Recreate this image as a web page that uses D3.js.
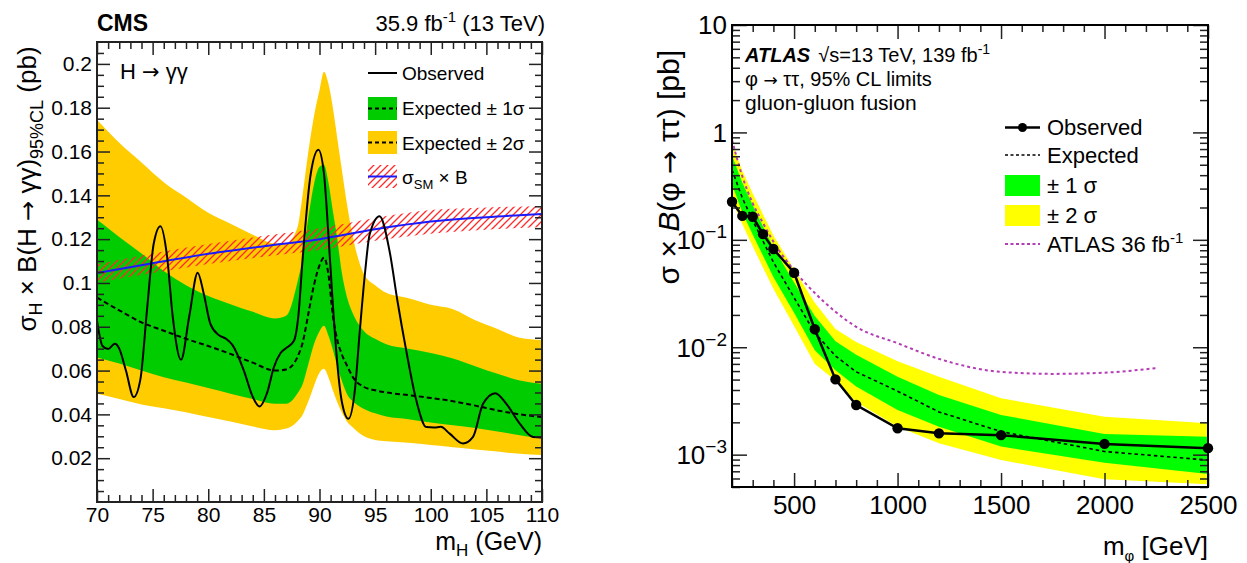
<!DOCTYPE html>
<html><head><meta charset="utf-8">
<script src="https://cdn.jsdelivr.net/npm/d3@7"></script>
<style>
body{margin:0;background:#fff;}
svg text{font-family:"Liberation Sans", Arial, Helvetica, sans-serif;fill:#000;}
.arr{font-family:"DejaVu Sans", sans-serif;}
</style></head><body>
<svg id="c" width="1247" height="563"></svg>
<script>
// ---------------- CMS (left) data ----------------
const cmsBandMass = [70,72,74,76,78,80,82,84,86,87,88,88.5,89,89.5,90,90.4,90.8,91.2,91.6,92,92.5,93,94,95,96,98,100,102,104,106,108,110];
const cmsExpected = [0.0933,0.0875,0.082,0.0782,0.0745,0.0712,0.0676,0.0636,0.060,0.0605,0.066,0.073,0.086,0.099,0.108,0.1115,0.104,0.085,0.074,0.0675,0.062,0.057,0.0525,0.051,0.050,0.0488,0.0475,0.046,0.044,0.0418,0.040,0.0388];
const cms1SigHi = [0.129,0.121,0.1135,0.1055,0.099,0.094,0.0903,0.0868,0.0838,0.085,0.100,0.112,0.130,0.145,0.153,0.154,0.146,0.133,0.120,0.105,0.093,0.086,0.078,0.0745,0.072,0.070,0.068,0.0655,0.062,0.0585,0.0555,0.054];
const cms1SigLo = [0.066,0.0632,0.060,0.057,0.0545,0.052,0.0494,0.047,0.0448,0.0448,0.0494,0.054,0.063,0.072,0.078,0.0805,0.076,0.0695,0.062,0.0555,0.049,0.046,0.0425,0.0405,0.039,0.0378,0.0363,0.035,0.0338,0.0322,0.0305,0.029];
const cms2SigHi = [0.1745,0.164,0.155,0.146,0.139,0.132,0.127,0.122,0.118,0.118,0.125,0.141,0.160,0.176,0.188,0.1964,0.191,0.180,0.166,0.152,0.135,0.121,0.104,0.099,0.0955,0.093,0.090,0.088,0.083,0.079,0.075,0.074];
const cms2SigLo = [0.0494,0.047,0.0445,0.0428,0.041,0.0388,0.0368,0.0345,0.0328,0.0335,0.0368,0.040,0.046,0.053,0.059,0.0608,0.057,0.051,0.0455,0.041,0.0365,0.034,0.030,0.0283,0.0277,0.027,0.026,0.025,0.024,0.023,0.022,0.0214];
const cmsObsMass = [70,70.5,71,71.6,72,72.6,73.3,73.9,74.5,75.1,75.7,76.3,76.8,77.55,78.3,79.05,79.6,80.2,81,81.6,82.2,83.2,84,84.6,85.3,85.9,86.5,87.1,87.7,88.1,88.5,89.2,89.9,90.4,90.8,91.2,91.5,92,92.6,93.2,93.6,94.1,94.5,95.4,96.3,97,97.8,98.7,99.6,100.3,100.9,101.7,102.9,103.8,104.7,105.8,106.8,108,109.2,110];
const cmsObserved = [0.0827,0.0712,0.0698,0.0722,0.070,0.060,0.0479,0.056,0.088,0.118,0.1259,0.112,0.085,0.0649,0.085,0.1047,0.095,0.0812,0.076,0.0745,0.0715,0.060,0.048,0.0436,0.050,0.0615,0.068,0.0706,0.0736,0.085,0.112,0.1494,0.1608,0.150,0.1221,0.090,0.0691,0.046,0.038,0.052,0.0767,0.105,0.122,0.1305,0.1145,0.092,0.069,0.0464,0.0342,0.034,0.0343,0.0312,0.0267,0.0297,0.0448,0.0497,0.0448,0.0358,0.0297,0.0295];
const cmsSMMass = [70,75,80,85,90,95,100,105,110];
const cmsSM   = [0.1045,0.109,0.1133,0.1168,0.120,0.1245,0.128,0.130,0.1315];
const cmsSMLo = [0.1002,0.1045,0.1087,0.112,0.115,0.1193,0.1225,0.1243,0.1255];
const cmsSMHi = [0.1085,0.1135,0.1178,0.1215,0.125,0.1297,0.1333,0.1345,0.135];
const cmsXTicks = [70,75,80,85,90,95,100,105,110];
const cmsXTickLabels = ["70","75","80","85","90","95","100","105","110"];
const cmsYTicks = [0.02,0.04,0.06,0.08,0.1,0.12,0.14,0.16,0.18,0.2];
const cmsYTickLabels = ["0.02","0.04","0.06","0.08","0.1","0.12","0.14","0.16","0.18","0.2"];

// ---------------- ATLAS (right) data ----------------
const atlasMass     = [200,250,300,350,400,500,600,700,800,1000,1200,1500,2000,2500];
const atlasObserved = [0.226,0.167,0.164,0.113,0.0822,0.0494,0.0147,0.00502,0.0029,0.00176,0.00158,0.00152,0.00126,0.00115];
const atlasExpected = [0.45,0.245,0.152,0.097,0.062,0.029,0.0136,0.0083,0.0059,0.0039,0.0025,0.00164,0.00107,0.00089];
const atlas2SigHi   = [0.80,0.44,0.27,0.172,0.11,0.053,0.026,0.0148,0.0112,0.0074,0.0053,0.00335,0.00226,0.00196];
const atlas1SigHi   = [0.61,0.34,0.21,0.133,0.085,0.040,0.0195,0.0114,0.0085,0.0053,0.0036,0.00234,0.00156,0.00147];
const atlas1SigLo   = [0.33,0.18,0.112,0.071,0.045,0.021,0.0094,0.0061,0.0043,0.0026,0.00182,0.00119,0.00084,0.00066];
const atlas2SigLo   = [0.235,0.14,0.087,0.055,0.035,0.0158,0.0070,0.0049,0.0031,0.00182,0.00128,0.00089,0.00059,0.00053];
const atlas36Mass   = [200,250,300,350,400,500,600,700,800,1000,1200,1500,1750,2000,2250];
const atlas36Limit  = [0.85,0.39,0.219,0.143,0.096,0.052,0.032,0.0214,0.0155,0.0109,0.0078,0.0059,0.00565,0.0058,0.0064];
const atlasXTicks = [500,1000,1500,2000,2500];
const atlasXTickLabels = ["500","1000","1500","2000","2500"];
const atlasYTicks = [0.001,0.01,0.1,1,10];
const atlasYTickBase = ["10","10","10","1","10"];
const atlasYTickExp  = ["\u22123","\u22122","\u22121","",""];

// ---------------- drawing ----------------
const svg = d3.select("#c");
const defs = svg.append("defs");
const FONT = '"Liberation Sans", Arial, Helvetica, sans-serif';
const ARROW = "\u2192";

const pat = defs.append("pattern").attr("id","hatch").attr("patternUnits","userSpaceOnUse")
  .attr("width",7).attr("height",7);
pat.append("path").attr("d","M-1.75,1.75 L1.75,-1.75 M0,7 L7,0 M5.25,8.75 L8.75,5.25")
  .attr("stroke","#ff2a2a").attr("stroke-width",1.3);

// ======== CMS panel ========
const L = {x0:97, x1:542, y0:42, y1:502};
const xL = d3.scaleLinear().domain([70,110]).range([L.x0,L.x1]);
const yL = d3.scaleLinear().domain([0,0.21]).range([L.y1,L.y0]);
defs.append("clipPath").attr("id","clipL").append("rect")
  .attr("x",L.x0).attr("y",L.y0).attr("width",L.x1-L.x0).attr("height",L.y1-L.y0);
const gL = svg.append("g").attr("clip-path","url(#clipL)");

const idx = cmsBandMass.map((d,i)=>i);
const areaL = (lo,hi)=>d3.area().x(i=>xL(cmsBandMass[i])).y0(i=>yL(lo[i])).y1(i=>yL(hi[i])).curve(d3.curveMonotoneX);
gL.append("path").attr("d",areaL(cms2SigLo,cms2SigHi)(idx)).attr("fill","#ffcc00");
gL.append("path").attr("d",areaL(cms1SigLo,cms1SigHi)(idx)).attr("fill","#00cc00");
gL.append("path").attr("d",d3.line().x(i=>xL(cmsBandMass[i])).y(i=>yL(cmsExpected[i])).curve(d3.curveMonotoneX)(idx))
  .attr("fill","none").attr("stroke","#000").attr("stroke-width",2).attr("stroke-dasharray","5,3");
const smIdx = cmsSMMass.map((d,i)=>i);
gL.append("path").attr("d",d3.area().x(i=>xL(cmsSMMass[i])).y0(i=>yL(cmsSMLo[i])).y1(i=>yL(cmsSMHi[i])).curve(d3.curveMonotoneX)(smIdx))
  .attr("fill","url(#hatch)");
gL.append("path").attr("d",d3.line().x(i=>xL(cmsSMMass[i])).y(i=>yL(cmsSM[i])).curve(d3.curveMonotoneX)(smIdx))
  .attr("fill","none").attr("stroke","#1a1aff").attr("stroke-width",2);
const obsIdx = cmsObsMass.map((d,i)=>i);
gL.append("path").attr("d",d3.line().x(i=>xL(cmsObsMass[i])).y(i=>yL(cmsObserved[i])).curve(d3.curveMonotoneX)(obsIdx))
  .attr("fill","none").attr("stroke","#000").attr("stroke-width",2);

function styleAxis(g, fs){
  g.select(".domain").remove();
  g.attr("font-family",FONT).attr("font-size",fs);
  g.selectAll("line").attr("stroke","#222").attr("stroke-width",1.5);
  g.selectAll("text").attr("fill","#000");
}
const cmsXMinor = d3.range(70,111,1).filter(v=>v%5!==0);
const cmsYMinor = d3.range(1,42).map(k=>k*0.005).filter((v,k)=>((k+1)%4)!==0);
svg.append("g").attr("transform",`translate(0,${L.y1})`)
  .call(d3.axisBottom(xL).tickValues(cmsXTicks).tickSize(-13).tickPadding(5).tickFormat((d,i)=>cmsXTickLabels[i]))
  .call(g=>styleAxis(g,21));
svg.append("g").attr("transform",`translate(0,${L.y1})`)
  .call(d3.axisBottom(xL).tickValues(cmsXMinor).tickSize(-7).tickFormat(""))
  .call(g=>styleAxis(g,21));
svg.append("g").attr("transform",`translate(0,${L.y0})`)
  .call(d3.axisTop(xL).tickValues(cmsXTicks).tickSize(-13).tickFormat(""))
  .call(g=>styleAxis(g,21));
svg.append("g").attr("transform",`translate(0,${L.y0})`)
  .call(d3.axisTop(xL).tickValues(cmsXMinor).tickSize(-7).tickFormat(""))
  .call(g=>styleAxis(g,21));
svg.append("g").attr("transform",`translate(${L.x0},0)`)
  .call(d3.axisLeft(yL).tickValues(cmsYTicks).tickSize(-13).tickPadding(5).tickFormat((d,i)=>cmsYTickLabels[i]))
  .call(g=>styleAxis(g,21));
svg.append("g").attr("transform",`translate(${L.x0},0)`)
  .call(d3.axisLeft(yL).tickValues(cmsYMinor).tickSize(-7).tickFormat(""))
  .call(g=>styleAxis(g,21));
svg.append("g").attr("transform",`translate(${L.x1},0)`)
  .call(d3.axisRight(yL).tickValues(cmsYTicks).tickSize(-13).tickFormat(""))
  .call(g=>styleAxis(g,21));
svg.append("g").attr("transform",`translate(${L.x1},0)`)
  .call(d3.axisRight(yL).tickValues(cmsYMinor).tickSize(-7).tickFormat(""))
  .call(g=>styleAxis(g,21));
svg.append("rect").attr("x",L.x0).attr("y",L.y0).attr("width",L.x1-L.x0).attr("height",L.y1-L.y0)
  .attr("fill","none").attr("stroke","#222").attr("stroke-width",2);

// CMS texts
svg.append("text").attr("x",97).attr("y",31).attr("font-size",23).attr("font-weight","bold").text("CMS");
{
  const t = svg.append("text").attr("x",545).attr("y",31).attr("font-size",22).attr("text-anchor","end");
  t.append("tspan").text("35.9 fb");
  t.append("tspan").attr("font-size",15).attr("dy",-9).text("-1");
  t.append("tspan").attr("dy",9).text(" (13 TeV)");
}
{
  const t = svg.append("text").attr("x",120).attr("y",79).attr("font-size",22);
  t.append("tspan").text("H ");
  t.append("tspan").attr("class","arr").attr("font-size",21).text(ARROW);
  t.append("tspan").text(" \u03b3\u03b3");
}
{
  const t = svg.append("text").attr("x",L.x1).attr("y",550).attr("font-size",25).attr("text-anchor","end");
  t.append("tspan").text("m");
  t.append("tspan").attr("font-size",17).attr("dy",6).text("H");
  t.append("tspan").attr("dy",-6).text(" (GeV)");
}
{
  const t = svg.append("text").attr("transform","translate(36,189) rotate(-90)").attr("font-size",26).attr("text-anchor","middle");
  t.append("tspan").text("\u03c3");
  t.append("tspan").attr("font-size",18).attr("dy",6).text("H");
  t.append("tspan").attr("dy",-6).text(" \u00d7 B(H ");
  t.append("tspan").attr("class","arr").attr("font-size",24).text(ARROW);
  t.append("tspan").text(" \u03b3\u03b3)");
  t.append("tspan").attr("font-size",18).attr("dy",7).text("95%CL");
  t.append("tspan").attr("dy",-7).text(" (pb)");
}
// CMS legend
{
  const lx0=368, lx1=397, tx=402;
  svg.append("line").attr("x1",lx0).attr("x2",lx1).attr("y1",73).attr("y2",73).attr("stroke","#000").attr("stroke-width",2);
  svg.append("text").attr("x",tx).attr("y",80).attr("font-size",19).text("Observed");
  svg.append("rect").attr("x",lx0).attr("y",97).attr("width",lx1-lx0).attr("height",23).attr("fill","#00cc00");
  svg.append("line").attr("x1",lx0).attr("x2",lx1).attr("y1",108.5).attr("y2",108.5).attr("stroke","#000").attr("stroke-width",2).attr("stroke-dasharray","4,3");
  svg.append("text").attr("x",tx).attr("y",115).attr("font-size",19).text("Expected \u00b1 1\u03c3");
  svg.append("rect").attr("x",lx0).attr("y",131).attr("width",lx1-lx0).attr("height",23).attr("fill","#ffcc00");
  svg.append("line").attr("x1",lx0).attr("x2",lx1).attr("y1",142.5).attr("y2",142.5).attr("stroke","#000").attr("stroke-width",2).attr("stroke-dasharray","4,3");
  svg.append("text").attr("x",tx).attr("y",150).attr("font-size",19).text("Expected \u00b1 2\u03c3");
  svg.append("rect").attr("x",lx0).attr("y",165).attr("width",lx1-lx0).attr("height",23).attr("fill","url(#hatch)");
  svg.append("line").attr("x1",lx0).attr("x2",lx1).attr("y1",176.5).attr("y2",176.5).attr("stroke","#1a1aff").attr("stroke-width",2);
  const t = svg.append("text").attr("x",tx).attr("y",184).attr("font-size",19);
  t.append("tspan").text("\u03c3");
  t.append("tspan").attr("font-size",13).attr("dy",5).text("SM");
  t.append("tspan").attr("dy",-5).text(" \u00d7 B");
}

// ======== ATLAS panel ========
const R = {x0:732, x1:1208, y0:25, y1:487};
const xR = d3.scaleLinear().domain([200,2500]).range([R.x0,R.x1]);
const yR = d3.scaleLog().domain([5e-4,10]).range([R.y1,R.y0]);
defs.append("clipPath").attr("id","clipR").append("rect")
  .attr("x",R.x0).attr("y",R.y0).attr("width",R.x1-R.x0).attr("height",R.y1-R.y0);
const gR = svg.append("g").attr("clip-path","url(#clipR)");
const aIdx = atlasMass.map((d,i)=>i);
const areaR = (lo,hi)=>d3.area().x(i=>xR(atlasMass[i])).y0(i=>yR(lo[i])).y1(i=>yR(hi[i]));
gR.append("path").attr("d",areaR(atlas2SigLo,atlas2SigHi)(aIdx)).attr("fill","#ffff00");
gR.append("path").attr("d",areaR(atlas1SigLo,atlas1SigHi)(aIdx)).attr("fill","#00ff00");
gR.append("path").attr("d",d3.line().x(i=>xR(atlasMass[i])).y(i=>yR(atlasExpected[i]))(aIdx))
  .attr("fill","none").attr("stroke","#000").attr("stroke-width",1.6).attr("stroke-dasharray","3.5,3");
const a36Idx = atlas36Mass.map((d,i)=>i);
gR.append("path").attr("d",d3.line().x(i=>xR(atlas36Mass[i])).y(i=>yR(atlas36Limit[i])).curve(d3.curveMonotoneX)(a36Idx))
  .attr("fill","none").attr("stroke","#b43cb4").attr("stroke-width",2).attr("stroke-dasharray","3,3");
gR.append("path").attr("d",d3.line().x(i=>xR(atlasMass[i])).y(i=>yR(atlasObserved[i]))(aIdx))
  .attr("fill","none").attr("stroke","#000").attr("stroke-width",2.5);
svg.append("g").selectAll("circle").data(aIdx).join("circle")
  .attr("cx",i=>xR(atlasMass[i])).attr("cy",i=>yR(atlasObserved[i])).attr("r",5.2).attr("fill","#000");

const atlasXMinor = d3.range(200,2501,100).filter(v=>v%500!==0);
const atlasYMinor = [];
[-4,-3,-2,-1,0].forEach(e=>{ for(let k=2;k<=9;k++){ const v=k*Math.pow(10,e); if(v>=5e-4-1e-12 && v<=10) atlasYMinor.push(v);} });
svg.append("g").attr("transform",`translate(0,${R.y1})`)
  .call(d3.axisBottom(xR).tickValues(atlasXTicks).tickSize(-14).tickPadding(9).tickFormat((d,i)=>atlasXTickLabels[i]))
  .call(g=>styleAxis(g,26));
svg.append("g").attr("transform",`translate(0,${R.y1})`)
  .call(d3.axisBottom(xR).tickValues(atlasXMinor).tickSize(-7).tickFormat(""))
  .call(g=>styleAxis(g,26));
svg.append("g").attr("transform",`translate(0,${R.y0})`)
  .call(d3.axisTop(xR).tickValues(atlasXTicks).tickSize(-14).tickFormat(""))
  .call(g=>styleAxis(g,26));
svg.append("g").attr("transform",`translate(0,${R.y0})`)
  .call(d3.axisTop(xR).tickValues(atlasXMinor).tickSize(-7).tickFormat(""))
  .call(g=>styleAxis(g,26));
svg.append("g").attr("transform",`translate(${R.x0},0)`)
  .call(d3.axisLeft(yR).tickValues(atlasYTicks).tickSize(-15).tickFormat(""))
  .call(g=>styleAxis(g,26));
svg.append("g").attr("transform",`translate(${R.x0},0)`)
  .call(d3.axisLeft(yR).tickValues(atlasYMinor).tickSize(-8).tickFormat(""))
  .call(g=>styleAxis(g,26));
svg.append("g").attr("transform",`translate(${R.x1},0)`)
  .call(d3.axisRight(yR).tickValues(atlasYTicks).tickSize(-15).tickFormat(""))
  .call(g=>styleAxis(g,26));
svg.append("g").attr("transform",`translate(${R.x1},0)`)
  .call(d3.axisRight(yR).tickValues(atlasYMinor).tickSize(-8).tickFormat(""))
  .call(g=>styleAxis(g,26));
svg.append("rect").attr("x",R.x0).attr("y",R.y0).attr("width",R.x1-R.x0).attr("height",R.y1-R.y0)
  .attr("fill","none").attr("stroke","#000").attr("stroke-width",2);
atlasYTicks.forEach((v,i)=>{
  const t = svg.append("text").attr("x",R.x0-5).attr("y",yR(v)).attr("dy","0.36em").attr("font-size",26).attr("text-anchor","end");
  t.append("tspan").text(atlasYTickBase[i]);
  if(atlasYTickExp[i]) t.append("tspan").attr("font-size",19).attr("dy",-11).text(atlasYTickExp[i]);
});
{
  const t = svg.append("text").attr("x",R.x1).attr("y",555).attr("font-size",26).attr("text-anchor","end");
  t.append("tspan").text("m");
  t.append("tspan").attr("font-size",15).attr("dy",6).text("\u03c6");
  t.append("tspan").attr("dy",-6).text(" [GeV]");
}
{
  const t = svg.append("text").attr("transform","translate(679,50) rotate(-90)").attr("font-size",30).attr("text-anchor","end");
  t.append("tspan").text("\u03c3 \u00d7 ");
  t.append("tspan").attr("font-style","italic").text("B");
  t.append("tspan").text("(\u03c6 ");
  t.append("tspan").attr("class","arr").attr("font-size",28).text(ARROW);
  t.append("tspan").text(" \u03c4\u03c4) [pb]");
}
{
  const t = svg.append("text").attr("x",745).attr("y",62).attr("font-size",20);
  t.append("tspan").attr("font-weight","bold").attr("font-style","italic").text("ATLAS");
  t.append("tspan").attr("dx",8).text("\u221as=13 TeV, 139 fb");
  t.append("tspan").attr("font-size",14).attr("dy",-8).text("-1");
  const t2 = svg.append("text").attr("x",745).attr("y",86).attr("font-size",20);
  t2.append("tspan").text("\u03c6 ");
  t2.append("tspan").attr("class","arr").attr("font-size",17).text(ARROW);
  t2.append("tspan").text(" \u03c4\u03c4, 95% CL limits");
  svg.append("text").attr("x",745).attr("y",110).attr("font-size",21).text("gluon-gluon fusion");
}
{
  const lx0=1005, lx1=1040, tx=1047, fs=22;
  svg.append("line").attr("x1",lx0).attr("x2",lx1).attr("y1",127.5).attr("y2",127.5).attr("stroke","#000").attr("stroke-width",2.5);
  svg.append("circle").attr("cx",(lx0+lx1)/2).attr("cy",127.5).attr("r",4.5).attr("fill","#000");
  svg.append("text").attr("x",tx).attr("y",135).attr("font-size",fs).text("Observed");
  svg.append("line").attr("x1",lx0).attr("x2",lx1).attr("y1",155).attr("y2",155).attr("stroke","#000").attr("stroke-width",1.5).attr("stroke-dasharray","3,2.5");
  svg.append("text").attr("x",tx).attr("y",163).attr("font-size",fs).text("Expected");
  svg.append("rect").attr("x",lx0).attr("y",175).attr("width",lx1-lx0).attr("height",21).attr("fill","#00ff00");
  svg.append("text").attr("x",tx).attr("y",193).attr("font-size",fs).text("\u00b1 1 \u03c3");
  svg.append("rect").attr("x",lx0).attr("y",205).attr("width",lx1-lx0).attr("height",21).attr("fill","#ffff00");
  svg.append("text").attr("x",tx).attr("y",223).attr("font-size",fs).text("\u00b1 2 \u03c3");
  svg.append("line").attr("x1",lx0).attr("x2",lx1).attr("y1",244).attr("y2",244).attr("stroke","#b43cb4").attr("stroke-width",2).attr("stroke-dasharray","3,2.5");
  const t = svg.append("text").attr("x",tx).attr("y",252).attr("font-size",fs);
  t.append("tspan").text("ATLAS 36 fb");
  t.append("tspan").attr("font-size",15).attr("dy",-9).text("-1");
}
</script>
</body></html>
